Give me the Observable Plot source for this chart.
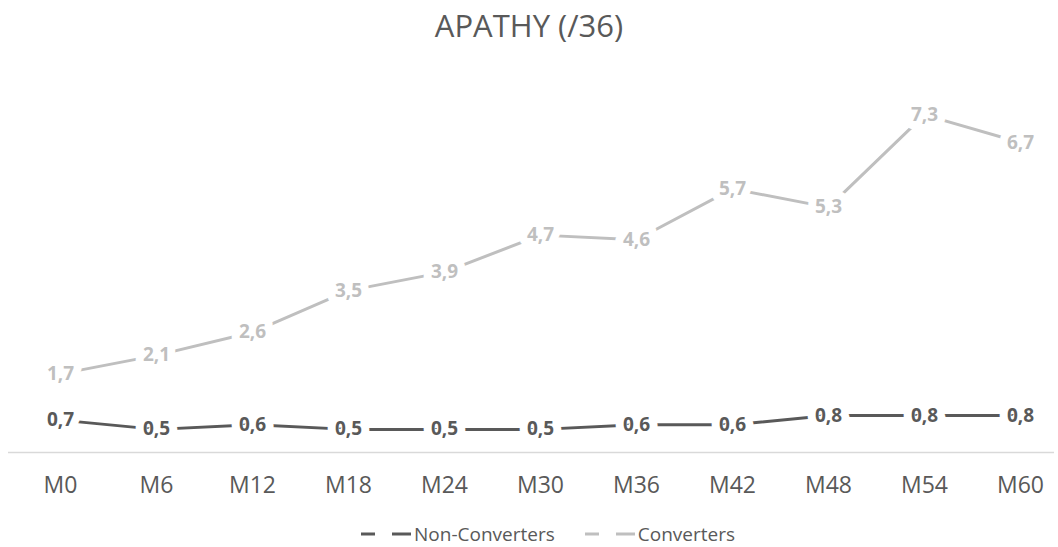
<!DOCTYPE html>
<html>
<head>
<meta charset="utf-8">
<script src="https://cdn.jsdelivr.net/npm/d3@7"></script>
<script src="https://cdn.jsdelivr.net/npm/@observablehq/plot@0.6"></script>
<style>
  html, body { margin: 0; padding: 0; background: #fff; }
  body { width: 1058px; height: 547px; overflow: hidden; font-family: "Open Sans", sans-serif; }
  #title { height: 60px; box-sizing: border-box; padding-top: 5px; text-align: center; font-size: 31px; line-height: 40px; color: #595959; }
  #legend { height: 37px; box-sizing: border-box; padding-top: 14px; padding-left: 38px; display: flex; justify-content: center; align-items: flex-start; font-size: 19px; line-height: 20px; color: #595959; }
  .item { display: flex; align-items: center; margin: 0 15px; height: 20px; }
  .item svg { margin-right: 3px; }
</style>
</head>
<body>
<div id="title">APATHY (/36)</div>
<div id="chart"></div>
<div id="legend"></div>
<script>
const months = ["M0","M6","M12","M18","M24","M30","M36","M42","M48","M54","M60"];
const nonConverters = [0.7,0.5,0.6,0.5,0.5,0.5,0.6,0.6,0.8,0.8,0.8];
const converters = [1.7,2.1,2.6,3.5,3.9,4.7,4.6,5.7,5.3,7.3,6.7];
const seriesNames = ["Non-Converters","Converters"];
const seriesColors = ["#595959","#bfbfbf"];

const rows = [];
months.forEach((m,i) => {
  rows.push({month: m, value: nonConverters[i], series: seriesNames[0]});
  rows.push({month: m, value: converters[i], series: seriesNames[1]});
});
const fmt = v => v.toFixed(1).replace(".", ",");
const nc = rows.filter(d => d.series === seriesNames[0]);
const cv = rows.filter(d => d.series === seriesNames[1]);

const plot = Plot.plot({
  width: 1058,
  height: 450,
  marginTop: 22,
  marginBottom: 58,
  marginLeft: 8,
  marginRight: 4,
  style: {fontFamily: "'Open Sans', sans-serif", background: "#fff"},
  x: {type: "point", domain: months, range: [56, 1023], padding: 0, label: null},
  y: {domain: [0, 8], axis: null},
  marks: [
    Plot.ruleY([0], {stroke: "#d9d9d9", strokeWidth: 1.3}),
    Plot.axisX({tickSize: 0, tickPadding: 24, fontSize: 23, color: "#595959", label: null}),
    Plot.line(cv, {x: "month", y: "value", stroke: seriesColors[1], strokeWidth: 3}),
    Plot.line(nc, {x: "month", y: "value", stroke: seriesColors[0], strokeWidth: 3}),
    Plot.text(cv, {x: "month", y: "value", text: d => fmt(d.value), fill: seriesColors[1], stroke: "white", strokeWidth: 16, strokeLinejoin: "round", fontSize: 19, fontWeight: "bold"}),
    Plot.text(nc, {x: "month", y: "value", text: d => fmt(d.value), fill: seriesColors[0], stroke: "white", strokeWidth: 16, strokeLinejoin: "round", fontSize: 19, fontWeight: "bold"})
  ]
});
document.getElementById("chart").appendChild(plot);

const legend = document.getElementById("legend");
seriesNames.forEach((name, i) => {
  const item = document.createElement("div");
  item.className = "item";
  item.innerHTML = `<svg width="50" height="10"><line x1="0" x2="14" y1="5" y2="5" stroke="${seriesColors[i]}" stroke-width="3"/><line x1="31" x2="50" y1="5" y2="5" stroke="${seriesColors[i]}" stroke-width="3"/></svg><span>${name}</span>`;
  legend.appendChild(item);
});
</script>
</body>
</html>
